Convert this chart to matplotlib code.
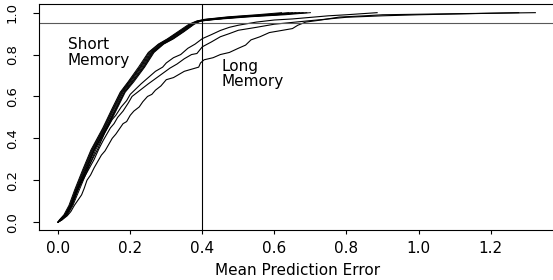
import matplotlib
matplotlib.use('Agg')
import matplotlib.pyplot as plt

plt.rcParams['font.family'] = ['DejaVu Sans']

# short memory ECDFs (shared y levels, one x list per curve)
short_y = [0, 0.01, 0.035, 0.08, 0.155, 0.25, 0.345, 0.45, 0.54, 0.62, 0.67,
           0.74, 0.81, 0.85, 0.875, 0.91, 0.945, 0.96, 0.968, 0.98, 0.99, 1.0]
short_x = [
    [0.0, 0.005, 0.02, 0.035, 0.051, 0.074, 0.097, 0.13, 0.155, 0.178, 0.2,
     0.23, 0.258, 0.285, 0.31, 0.34, 0.37, 0.39, 0.42, 0.5, 0.6, 0.68],
    [0.0, 0.008, 0.024, 0.039, 0.056, 0.079, 0.101, 0.134, 0.16, 0.183, 0.206,
     0.236, 0.262, 0.29, 0.316, 0.346, 0.374, 0.392, 0.43, 0.51, 0.59, 0.66],
    [0.0, 0.004, 0.018, 0.032, 0.048, 0.07, 0.093, 0.126, 0.151, 0.174, 0.196,
     0.226, 0.252, 0.28, 0.305, 0.336, 0.366, 0.386, 0.41, 0.48, 0.57, 0.64],
    [0.0, 0.01, 0.026, 0.041, 0.059, 0.082, 0.104, 0.137, 0.163, 0.186, 0.21,
     0.24, 0.266, 0.293, 0.32, 0.35, 0.378, 0.396, 0.44, 0.53, 0.63, 0.70],
    [0.0, 0.006, 0.021, 0.036, 0.053, 0.076, 0.099, 0.132, 0.158, 0.18, 0.203,
     0.233, 0.26, 0.288, 0.313, 0.343, 0.372, 0.391, 0.425, 0.52, 0.61, 0.67],
    [0.0, 0.003, 0.016, 0.03, 0.046, 0.068, 0.091, 0.124, 0.149, 0.172, 0.194,
     0.223, 0.25, 0.278, 0.303, 0.333, 0.363, 0.384, 0.405, 0.47, 0.55, 0.62],
    [0.0, 0.007, 0.022, 0.037, 0.054, 0.077, 0.1, 0.135, 0.161, 0.184, 0.207,
     0.238, 0.264, 0.291, 0.318, 0.348, 0.376, 0.394, 0.435, 0.5, 0.58, 0.65],
    [0.0, 0.005, 0.019, 0.034, 0.05, 0.072, 0.095, 0.128, 0.153, 0.176, 0.198,
     0.228, 0.255, 0.283, 0.308, 0.338, 0.368, 0.388, 0.415, 0.49, 0.6, 0.69],
]

# long memory ECDFs
long1_x = [0.0, 0.006, 0.02, 0.035, 0.05, 0.065, 0.08, 0.095, 0.11, 0.12, 0.13,
           0.14, 0.15, 0.16, 0.175, 0.19, 0.2, 0.215, 0.23, 0.25, 0.27, 0.29,
           0.3, 0.32, 0.34, 0.36, 0.38, 0.4, 0.425, 0.45, 0.475, 0.5, 0.55,
           0.6, 0.65, 0.75, 0.8, 0.885]
long1_y = [0, 0.01, 0.035, 0.08, 0.15, 0.2, 0.25, 0.3, 0.35, 0.39, 0.43,
           0.46, 0.49, 0.51, 0.55, 0.58, 0.61, 0.635, 0.66, 0.69, 0.72, 0.74,
           0.76, 0.785, 0.8, 0.83, 0.85, 0.876, 0.895, 0.915, 0.93, 0.94, 0.955,
           0.965, 0.97, 0.985, 0.99, 1.0]
long2_x = [0.0, 0.007, 0.022, 0.038, 0.053, 0.068, 0.084, 0.1, 0.113, 0.125,
           0.135, 0.145, 0.155, 0.165, 0.18, 0.195, 0.205, 0.22, 0.235, 0.25,
           0.27, 0.29, 0.31, 0.33, 0.35, 0.37, 0.385, 0.4, 0.425, 0.45, 0.475,
           0.5, 0.55, 0.6, 0.7, 0.8, 0.9, 1.0, 1.278]
long2_y = [0, 0.01, 0.035, 0.08, 0.15, 0.2, 0.25, 0.3, 0.35, 0.39,
           0.42, 0.45, 0.47, 0.5, 0.53, 0.57, 0.6, 0.62, 0.64, 0.66,
           0.685, 0.71, 0.735, 0.755, 0.78, 0.8, 0.805, 0.837, 0.86, 0.885, 0.9,
           0.916, 0.93, 0.945, 0.962, 0.978, 0.985, 0.99, 1.0]
long3_x = [0.0, 0.01, 0.025, 0.035, 0.045, 0.055, 0.065, 0.072, 0.08, 0.09, 0.1,
           0.11, 0.12, 0.13, 0.14, 0.15, 0.16, 0.172, 0.18, 0.19, 0.2, 0.21,
           0.225, 0.235, 0.248, 0.26, 0.27, 0.285, 0.3, 0.32, 0.335, 0.35, 0.37,
           0.39, 0.395, 0.405, 0.43, 0.45, 0.475, 0.5, 0.52, 0.535, 0.56, 0.586,
           0.62, 0.65, 0.665, 0.687, 0.73, 0.78, 0.85, 0.9, 1.1, 1.324]
long3_y = [0, 0.01, 0.03, 0.05, 0.08, 0.105, 0.13, 0.16, 0.2, 0.225, 0.26,
           0.29, 0.32, 0.34, 0.37, 0.4, 0.42, 0.45, 0.47, 0.48, 0.51, 0.53,
           0.55, 0.575, 0.6, 0.61, 0.63, 0.65, 0.68, 0.69, 0.705, 0.72, 0.73,
           0.74, 0.76, 0.775, 0.785, 0.8, 0.81, 0.83, 0.845, 0.87, 0.885, 0.905,
           0.915, 0.924, 0.94, 0.955, 0.965, 0.979, 0.985, 0.99, 0.995, 1.0]

x_ticks = [0.0, 0.2, 0.4, 0.6, 0.8, 1.0, 1.2]
y_ticks = [0.0, 0.2, 0.4, 0.6, 0.8, 1.0]

fig = plt.figure(figsize=(5.53, 2.80), dpi=100)
ax = fig.add_axes([0.0705, 0.1768, 0.936, 0.8079])

for xs in short_x:
    ax.plot(xs, short_y, color='black', linewidth=0.7)
for xs, ys in [(long1_x, long1_y), (long2_x, long2_y), (long3_x, long3_y)]:
    ax.plot(xs, ys, color='black', linewidth=0.8)

ax.axhline(0.95, color='0.35', linewidth=0.8)
ax.axvline(0.4, color='black', linewidth=0.8)

ax.text(0.027, 0.884, 'Short\nMemory', ha='left', va='top', fontsize=11,
        linespacing=1.05)
ax.text(0.452, 0.781, 'Long\nMemory', ha='left', va='top', fontsize=11,
        linespacing=1.05)

ax.set_xlim(-0.0532, 1.383)
ax.set_ylim(-0.04, 1.04)
ax.set_xticks(x_ticks)
ax.set_xticklabels([f'{v:.1f}' for v in x_ticks], fontsize=11)
ax.set_yticks(y_ticks)
ax.set_yticklabels([f'{v:.1f}' for v in y_ticks], fontsize=9.5,
                   rotation=90, va='center')
ax.tick_params(axis='x', length=3, width=0.8, pad=4.5)
ax.tick_params(axis='y', length=4.5, width=0.8, pad=10)
ax.set_xlabel('Mean Prediction Error', fontsize=11, labelpad=5)

for s in ax.spines.values():
    s.set_linewidth(0.8)

plt.savefig('out.png', dpi=100)
